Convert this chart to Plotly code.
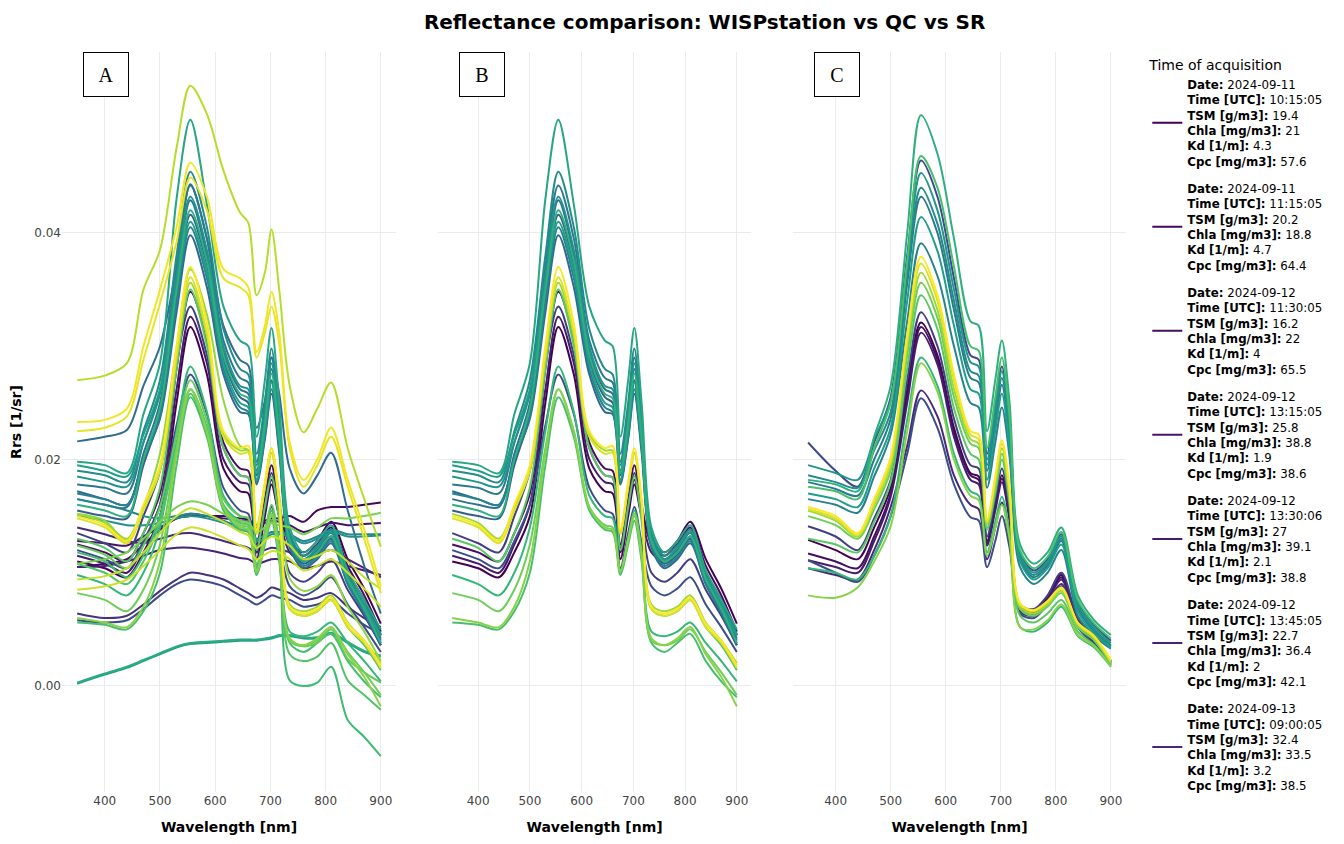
import plotly.graph_objects as go
from plotly.subplots import make_subplots
from plotly.colors import sample_colorscale

# wavelength grid [nm] and Rrs values, in units of 1e-4 sr^-1
WL = [350, 400, 440, 470, 500, 530, 555, 585, 615, 645, 660, 675, 690, 702, 716, 735, 760, 785, 810, 840, 870, 900]
UNIT = 1e-4
N_ACQ = 55

# acquisitions that passed QC (panel B, also shown in raw panel A)
QC_00 = [110, 104, 96, 118, 150, 250, 317, 275, 192, 172, 170, 112, 150, 178, 150, 128, 118, 128, 145, 112, 86, 55]
QC_02 = [125, 118, 110, 135, 170, 280, 348, 305, 215, 192, 190, 125, 165, 195, 160, 125, 115, 125, 140, 106, 80, 48]
QC_04 = [115, 108, 100, 125, 160, 262, 326, 285, 200, 180, 178, 118, 155, 182, 150, 118, 110, 118, 132, 100, 76, 45]
QC_10 = [135, 126, 118, 150, 190, 285, 335, 292, 210, 186, 184, 122, 160, 188, 150, 100, 92, 100, 112, 85, 62, 36]
QC_13 = [120, 112, 104, 128, 160, 230, 275, 240, 175, 155, 152, 104, 135, 158, 126, 88, 80, 86, 96, 72, 52, 30]
QC_16 = [155, 150, 148, 195, 240, 345, 416, 372, 288, 255, 250, 186, 228, 270, 215, 125, 108, 116, 130, 92, 66, 36]
QC_18 = [172, 165, 160, 200, 236, 330, 398, 352, 275, 242, 240, 178, 218, 258, 206, 122, 104, 112, 126, 90, 64, 36]
QC_20 = [165, 160, 158, 205, 250, 355, 429, 380, 295, 262, 258, 190, 235, 280, 224, 128, 110, 118, 132, 94, 70, 40]
QC_22 = [178, 175, 170, 215, 260, 370, 442, 395, 305, 272, 268, 198, 245, 290, 230, 132, 112, 120, 135, 96, 70, 42]
QC_24 = [170, 165, 160, 200, 238, 338, 405, 360, 280, 246, 242, 180, 220, 262, 210, 124, 106, 114, 128, 90, 65, 38]
QC_26 = [190, 186, 180, 225, 270, 380, 454, 405, 315, 280, 275, 205, 250, 298, 235, 135, 115, 124, 138, 98, 72, 45]
QC_28 = [185, 180, 176, 215, 258, 362, 432, 385, 300, 265, 262, 195, 240, 285, 228, 130, 112, 122, 136, 97, 72, 46]
QC_30 = [195, 190, 185, 222, 262, 350, 410, 366, 285, 250, 246, 182, 225, 268, 214, 126, 110, 118, 132, 95, 70, 44]
QC_32 = [198, 195, 188, 240, 285, 430, 500, 425, 335, 305, 300, 220, 270, 316, 250, 140, 118, 128, 142, 102, 76, 50]
QC_34 = [160, 155, 150, 200, 245, 350, 420, 375, 292, 258, 254, 188, 232, 276, 220, 128, 110, 118, 132, 94, 68, 38]
QC_36 = [98, 90, 80, 100, 140, 225, 282, 242, 168, 150, 148, 100, 130, 155, 120, 48, 44, 48, 56, 38, 22, 4]
QC_38 = [56, 54, 50, 66, 100, 195, 255, 220, 155, 138, 136, 98, 125, 146, 110, 38, 30, 38, 46, 22, 4, -10]
QC_40 = [130, 122, 110, 135, 175, 280, 350, 300, 210, 186, 184, 120, 158, 185, 146, 68, 62, 66, 76, 52, 36, 14]
QC_42 = [82, 76, 66, 85, 125, 210, 262, 225, 158, 142, 140, 100, 128, 150, 115, 40, 36, 40, 50, 30, 12, -8]
QC_44 = [60, 56, 52, 70, 110, 205, 262, 224, 158, 140, 138, 102, 130, 152, 116, 42, 36, 42, 52, 28, 8, -18]
QC_46 = [152, 144, 130, 158, 192, 292, 356, 308, 222, 208, 208, 136, 178, 206, 162, 72, 66, 70, 80, 56, 40, 20]
QC_51 = [148, 140, 126, 155, 190, 290, 361, 312, 220, 205, 206, 134, 175, 205, 160, 68, 62, 66, 76, 52, 38, 16]
QC_54 = [150, 142, 128, 160, 195, 300, 370, 320, 225, 210, 212, 138, 180, 210, 165, 70, 64, 68, 78, 55, 40, 18]

# acquisitions rejected by QC (panel A only)
RJ_01 = [105, 108, 112, 125, 138, 148, 150, 150, 150, 148, 147, 142, 146, 148, 148, 150, 145, 155, 158, 158, 160, 162]
RJ_03 = [128, 126, 124, 132, 140, 148, 152, 150, 148, 146, 145, 140, 144, 146, 145, 142, 136, 140, 144, 142, 143, 144]
RJ_05 = [105, 106, 110, 115, 120, 122, 122, 120, 117, 113, 112, 108, 110, 112, 112, 110, 104, 106, 110, 106, 102, 98]
RJ_06 = [140, 134, 128, 126, 130, 134, 135, 132, 128, 124, 122, 118, 120, 122, 121, 118, 112, 116, 120, 112, 104, 96]
RJ_08 = [64, 60, 62, 72, 84, 94, 100, 98, 94, 86, 82, 78, 82, 87, 85, 82, 76, 78, 82, 70, 60, 52]
RJ_12 = [58, 56, 58, 68, 80, 90, 94, 92, 88, 80, 76, 72, 76, 80, 78, 76, 70, 72, 76, 64, 54, 46]
RJ_19 = [216, 220, 226, 265, 300, 370, 443, 395, 318, 288, 283, 228, 252, 290, 258, 192, 170, 186, 206, 155, 106, 64]
RJ_25 = [165, 160, 155, 150, 148, 150, 152, 150, 146, 140, 138, 130, 133, 136, 136, 134, 128, 132, 138, 134, 134, 134]
RJ_27 = [150, 146, 142, 142, 144, 148, 150, 148, 144, 138, 136, 128, 130, 134, 134, 132, 126, 130, 136, 132, 132, 133]
RJ_31 = [2, 10, 16, 22, 28, 34, 37, 38, 39, 40, 40, 40, 41, 42, 44, 44, 42, 42, 46, 38, 30, 26]
RJ_33 = [3, 11, 17, 23, 29, 35, 38, 39, 40, 41, 41, 41, 42, 43, 45, 45, 43, 43, 47, 39, 31, 27]
RJ_37 = [118, 110, 96, 115, 150, 215, 262, 228, 160, 146, 144, 105, 132, 155, 120, 5, 0, 3, 17, -30, -45, -62]
RJ_39 = [108, 100, 90, 110, 145, 210, 258, 224, 158, 144, 142, 104, 130, 152, 118, 28, 22, 26, 38, 5, -8, -21]
RJ_41 = [124, 116, 104, 124, 158, 222, 270, 234, 165, 150, 148, 108, 136, 160, 124, 40, 35, 38, 50, 24, 12, 3]
RJ_43 = [108, 112, 118, 130, 145, 158, 163, 160, 152, 146, 144, 136, 140, 144, 142, 140, 134, 140, 148, 148, 150, 153]
RJ_45 = [152, 146, 128, 158, 205, 298, 368, 328, 252, 212, 208, 141, 178, 210, 168, 95, 84, 88, 98, 70, 48, 22]
RJ_48 = [270, 274, 285, 350, 385, 475, 530, 505, 455, 418, 409, 345, 365, 403, 350, 265, 224, 245, 268, 210, 165, 123]
RJ_49 = [94, 97, 104, 118, 135, 150, 157, 152, 145, 136, 133, 122, 128, 132, 130, 124, 112, 115, 120, 110, 96, 86]
RJ_50 = [85, 88, 94, 106, 120, 134, 140, 137, 131, 124, 121, 112, 116, 119, 118, 112, 102, 106, 112, 100, 86, 70]
RJ_52 = [225, 228, 238, 288, 338, 392, 449, 420, 360, 352, 345, 290, 312, 335, 302, 210, 176, 195, 220, 176, 130, 82]
RJ_53 = [233, 235, 245, 300, 350, 405, 462, 432, 368, 360, 352, 295, 318, 348, 312, 215, 182, 200, 228, 182, 138, 88]

# similarity-spectrum corrected (panel C)
SR_00 = [129, 120, 112, 140, 175, 262, 321, 292, 228, 188, 185, 128, 160, 186, 150, 70, 66, 78, 98, 58, 42, 22]
SR_02 = [117, 110, 104, 132, 170, 256, 317, 288, 224, 186, 182, 126, 158, 183, 148, 70, 66, 78, 96, 58, 42, 21]
SR_04 = [111, 105, 100, 128, 167, 250, 312, 284, 220, 182, 178, 124, 155, 180, 146, 68, 64, 76, 94, 56, 40, 20]
SR_06 = [104, 98, 94, 120, 158, 212, 261, 238, 186, 160, 156, 112, 140, 162, 130, 66, 62, 74, 90, 54, 38, 19]
SR_10 = [141, 132, 120, 148, 182, 270, 330, 300, 236, 195, 192, 132, 165, 192, 155, 72, 68, 80, 100, 60, 42, 22]
SR_12 = [215, 190, 176, 215, 255, 380, 464, 432, 360, 292, 288, 205, 248, 282, 232, 118, 102, 112, 134, 74, 54, 40]
SR_13 = [111, 100, 92, 115, 150, 205, 254, 228, 178, 149, 146, 105, 128, 150, 122, 64, 60, 72, 88, 52, 36, 18]
SR_22 = [180, 174, 168, 200, 236, 355, 432, 400, 332, 272, 268, 190, 232, 266, 218, 112, 96, 106, 128, 68, 48, 35]
SR_24 = [165, 160, 153, 185, 222, 322, 391, 362, 300, 250, 246, 175, 215, 246, 202, 105, 90, 100, 120, 62, 44, 33]
SR_26 = [186, 180, 175, 208, 242, 362, 440, 408, 340, 278, 274, 195, 238, 272, 224, 114, 98, 108, 130, 70, 50, 36]
SR_28 = [195, 188, 182, 218, 252, 372, 453, 420, 350, 286, 282, 200, 244, 278, 228, 116, 100, 110, 132, 72, 52, 38]
SR_30 = [170, 165, 158, 192, 228, 340, 414, 384, 318, 262, 258, 182, 225, 258, 210, 110, 94, 104, 125, 66, 46, 34]
SR_34 = [182, 178, 172, 220, 265, 400, 504, 470, 395, 322, 318, 225, 270, 305, 250, 125, 108, 118, 140, 80, 58, 45]
SR_36 = [104, 100, 94, 115, 150, 235, 290, 265, 205, 172, 168, 118, 145, 167, 135, 52, 48, 56, 70, 44, 34, 17]
SR_38 = [176, 172, 165, 210, 250, 375, 468, 440, 370, 300, 296, 210, 255, 290, 238, 120, 104, 114, 136, 76, 55, 42]
SR_40 = [130, 125, 118, 145, 180, 280, 345, 315, 245, 205, 200, 138, 170, 200, 160, 62, 56, 64, 76, 48, 36, 18]
SR_42 = [150, 142, 130, 156, 190, 292, 356, 325, 255, 214, 210, 140, 175, 205, 165, 68, 62, 70, 82, 52, 40, 20]
SR_44 = [80, 78, 87, 110, 141, 225, 285, 260, 200, 168, 164, 115, 140, 160, 130, 52, 50, 58, 72, 45, 35, 17]
SR_46 = [155, 146, 132, 160, 195, 300, 365, 332, 262, 218, 214, 143, 178, 210, 168, 70, 64, 72, 84, 54, 42, 21]
SR_51 = [156, 148, 133, 162, 198, 305, 373, 340, 270, 222, 218, 145, 182, 214, 172, 72, 66, 74, 86, 55, 43, 22]
SR_54 = [158, 150, 135, 165, 202, 310, 379, 345, 275, 225, 222, 147, 185, 217, 175, 73, 67, 75, 87, 56, 44, 23]

# metadata of the acquisitions shown in the legend
DATES = ["2024-09-11", "2024-09-11", "2024-09-12", "2024-09-12", "2024-09-12", "2024-09-12", "2024-09-13"]
TIMES = ["10:15:05", "11:15:05", "11:30:05", "13:15:05", "13:30:06", "13:45:05", "09:00:05"]
TSM = [19.4, 20.2, 16.2, 25.8, 27, 22.7, 32.4]
CHLA = [21, 18.8, 22, 38.8, 39.1, 36.4, 33.5]
KD = [4.3, 4.7, 4, 1.9, 2.1, 2, 3.2]
CPC = [57.6, 64.4, 65.5, 38.6, 38.8, 42.1, 38.5]

PANEL_LABELS = ["A", "B", "C"]

qc = {0: QC_00, 2: QC_02, 4: QC_04, 10: QC_10, 13: QC_13, 16: QC_16, 18: QC_18, 20: QC_20,
      22: QC_22, 24: QC_24, 26: QC_26, 28: QC_28, 30: QC_30, 32: QC_32, 34: QC_34, 36: QC_36,
      38: QC_38, 40: QC_40, 42: QC_42, 44: QC_44, 46: QC_46, 51: QC_51, 54: QC_54}
rejected = {1: RJ_01, 3: RJ_03, 5: RJ_05, 6: RJ_06, 8: RJ_08, 12: RJ_12, 19: RJ_19, 25: RJ_25,
            27: RJ_27, 31: RJ_31, 33: RJ_33, 37: RJ_37, 39: RJ_39, 41: RJ_41, 43: RJ_43, 45: RJ_45,
            48: RJ_48, 49: RJ_49, 50: RJ_50, 52: RJ_52, 53: RJ_53}
sr = {0: SR_00, 2: SR_02, 4: SR_04, 6: SR_06, 10: SR_10, 12: SR_12, 13: SR_13, 22: SR_22,
      24: SR_24, 26: SR_26, 28: SR_28, 30: SR_30, 34: SR_34, 36: SR_36, 38: SR_38, 40: SR_40,
      42: SR_42, 44: SR_44, 46: SR_46, 51: SR_51, 54: SR_54}
raw = {**qc, **rejected}

colors = sample_colorscale("Viridis", [i / (N_ACQ - 1) for i in range(N_ACQ)])


def legend_label(k):
    return (f"<b>Date:</b> {DATES[k]}<br><b>Time [UTC]:</b> {TIMES[k]}"
            f"<br><b>TSM [g/m3]:</b> {TSM[k]}<br><b>Chla [mg/m3]:</b> {CHLA[k]}"
            f"<br><b>Kd [1/m]:</b> {KD[k]}<br><b>Cpc [mg/m3]:</b> {CPC[k]}")


fig = make_subplots(rows=1, cols=3, shared_yaxes=True)

for col, panel in enumerate([raw, qc, sr], start=1):
    for k in sorted(panel):
        has_legend = col == 1 and k < len(DATES)
        fig.add_trace(go.Scatter(
            x=WL, y=[v * UNIT for v in panel[k]],
            mode="lines", line=dict(color=colors[k], width=2, shape="spline", smoothing=0.9),
            name=legend_label(k) if k < len(DATES) else f"Acquisition {k}",
            legendgroup=str(k), showlegend=has_legend,
        ), row=1, col=col)

domains = [[0, 0.3139], [0.3534, 0.6476], [0.6870, 1.0]]
for i, dom in enumerate(domains, start=1):
    fig.update_xaxes(domain=dom, range=[322.5, 927.5], showgrid=True, gridcolor="#ebebeb",
                     zeroline=False, showline=False, ticks="", dtick=100, automargin=False,
                     tickfont=dict(size=12, color="#444"),
                     title=dict(text="<b>Wavelength [nm]</b>", font=dict(size=14, color="black")),
                     row=1, col=i)
fig.update_yaxes(range=[-0.00936, 0.05598], dtick=0.02, tick0=0, tickformat=".2f",
                 showgrid=True, gridcolor="#ebebeb", zeroline=False, showline=False, ticks="",
                 automargin=False, tickfont=dict(size=12, color="#444"))
fig.update_yaxes(title=dict(text="<b>Rrs [1/sr]</b>", font=dict(size=14, color="black")), row=1, col=1)

for label, dom in zip(PANEL_LABELS, domains):
    fig.add_annotation(x=dom[0] + 0.0197, y=1, xref="paper", yref="paper",
                       xanchor="left", yanchor="top", text=label, showarrow=False,
                       font=dict(family="Liberation Serif, Times New Roman, serif", size=20, color="black"),
                       bordercolor="black", borderwidth=1, borderpad=0, width=44, height=43,
                       bgcolor="white")

fig.update_layout(
    title=dict(text="<b>Reflectance comparison: WISPstation vs QC vs SR</b>",
               x=0.604, xref="paper", xanchor="center", y=0.983, yanchor="middle",
               font=dict(size=20, color="black")),
    font=dict(family="Verdana, DejaVu Sans, sans-serif", size=12, color="#444"),
    plot_bgcolor="white", paper_bgcolor="white",
    margin=dict(l=54, r=210, t=44, b=44, autoexpand=False),
    legend=dict(title=dict(text="Time of acquisition", font=dict(size=14, color="black")),
                font=dict(size=11.8, color="black"), x=1.02, y=1, tracegroupgap=9),
)
try:
    fig.update_layout(legend_maxheight=1000)
except ValueError:
    pass

fig.write_html("out.html")
